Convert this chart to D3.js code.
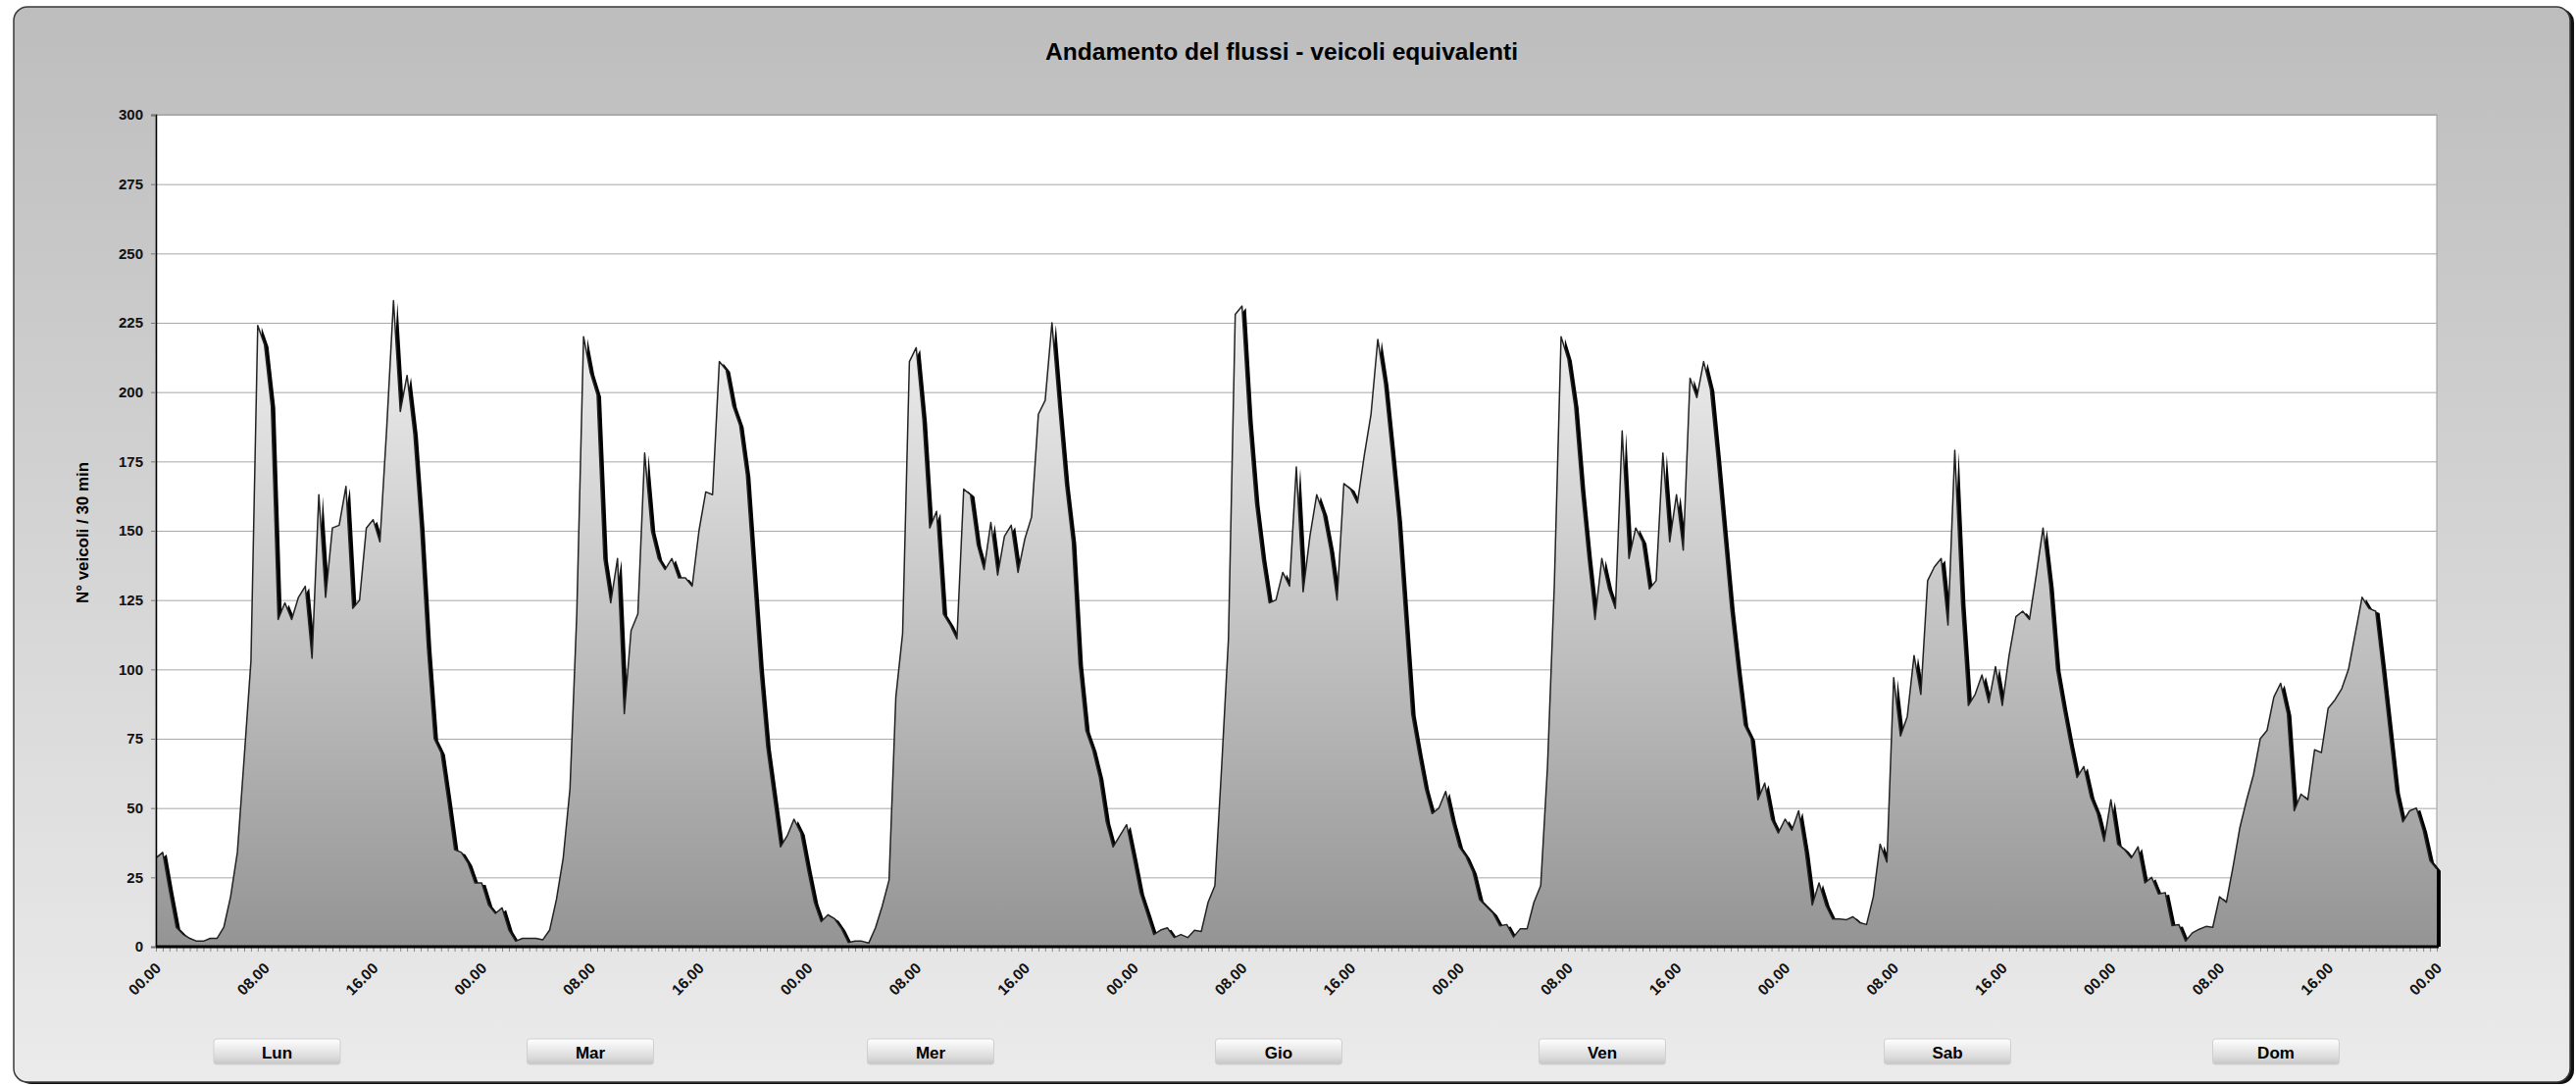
<!DOCTYPE html>
<html><head><meta charset="utf-8">
<script src="https://cdn.jsdelivr.net/npm/d3@7/dist/d3.min.js"></script>
<style>
html,body{margin:0;padding:0;background:#fff;}
svg{display:block;}
</style></head><body>
<svg id="chart" width="2627" height="1107"></svg>
<script>
// ---------------- DATA ----------------
const titleText = "Andamento del flussi - veicoli equivalenti";
const yTitleText = "N° veicoli / 30 min";
const days = ["Lun", "Mar", "Mer", "Gio", "Ven", "Sab", "Dom"];
const hourLabels = ["00.00", "08.00", "16.00"];
const yTickValues = [0, 25, 50, 75, 100, 125, 150, 175, 200, 225, 250, 275, 300];

// veicoli equivalenti per intervallo di 30 min (00.00 ... 23.30)
const lun = [32,34,20,7,4.5,3,2,2,3,3, 7,18,34,68,103,224,217,195,118,124,
             118,126,130,104,163,126,151,152,166,122, 125,151,154,146,187,233,193,206,185,151,
             108,75,70,53,35,34,30,23];
const mar = [23,15,12,14,6,2,3,3,3,2.5, 6,17,32,57,120,220,207,199,140,124,
             140,84,114,120,178,150,140,136,140,133, 133,130,150,164,163,211,208,195,188,170,
             135,100,72,54,36,40,46,41];
const mer = [28,16,9,11.5,10,6.5,1.5,2,2,1.3, 6.8,14.7,24,90,113,211,216,190,151,157,
             120,116,111,165,163,145,136,153,134,148, 152,135,147,155,192,197,225,195,167,146,
             102,78,71,61,45,36,40,44];
const gio = [32,19.5,12,4.4,6,6.8,3.3,4.4,3.3,5.9, 5.5,16,22,65,111,228,231,190,160,140,
             124,125,135,130,173,128,148,163,156,143, 125,167,165,160,177,192,219,203,179,154,
             119,84,70,57,48,50,56,45];
const ven = [36,32.5,27,17,14.5,12,7.5,8,3.5,6.5, 6.5,16,22,65,130,220,212,195,165,140,
             118,140,129,122,186,140,151,146,129,132, 178,146,163,143,205,198,211,201,176,149,
             122,100,80,75,53,59,46,41];
const sab = [46,42,49,34,15,23,15,10,10,9.7, 10.8,8.7,8,18,37,30.5,97,76,83,105,
             91,132,137,140,116,179,124,87,91,98, 88,101,87,105,119,121,118,134,151,130,
             100,86,73,61,65,54,48,38];
const dom = [53,37,35,32,36,23,25,19,19.5,7.6, 8,2,5,6.3,7.3,7,18,16,29,43,
             53,62,75,78,90,95,84,49,55,53, 71,70,86,89,93,100,113,126,122,121,
             100,78,56,45,49,50,42,31];
const lastMidnight = 28; // 00.00 finale

// ---------------- LAYOUT ----------------
const plot = {left: 159, right: 2485, top: 117, bottom: 965};
const buttonCenters = [282.5, 602, 949, 1304, 1634, 1986, 2321];
const narrow = "'Liberation Sans Narrow','Arial Narrow','Liberation Sans',Arial,sans-serif";
const sans = "'Liberation Sans',Arial,Helvetica,sans-serif";

const values = [].concat(lun, mar, mer, gio, ven, sab, dom, [lastMidnight]);
const perDay = lun.length;

const svg = d3.select("#chart");
const defs = svg.append("defs");

const bgGrad = defs.append("linearGradient").attr("id", "bgGrad")
  .attr("x1", 0).attr("y1", 0).attr("x2", 0).attr("y2", 1);
bgGrad.append("stop").attr("offset", "0%").attr("stop-color", "#bdbdbd");
bgGrad.append("stop").attr("offset", "100%").attr("stop-color", "#ebebeb");

const x = d3.scaleLinear().domain([0, values.length - 1]).range([plot.left, plot.right]);
const y = d3.scaleLinear().domain([0, 300]).range([plot.bottom, plot.top]);

const areaGrad = defs.append("linearGradient").attr("id", "areaGrad")
  .attr("gradientUnits", "userSpaceOnUse")
  .attr("x1", 0).attr("x2", 0).attr("y1", y(235)).attr("y2", y(0));
areaGrad.append("stop").attr("offset", "0%").attr("stop-color", "#f3f3f3");
areaGrad.append("stop").attr("offset", "100%").attr("stop-color", "#949494");

const btnGrad = defs.append("linearGradient").attr("id", "btnGrad")
  .attr("x1", 0).attr("y1", 0).attr("x2", 0).attr("y2", 1);
btnGrad.append("stop").attr("offset", "0%").attr("stop-color", "#ffffff");
btnGrad.append("stop").attr("offset", "25%").attr("stop-color", "#f2f2f2");
btnGrad.append("stop").attr("offset", "70%").attr("stop-color", "#dcdcdc");
btnGrad.append("stop").attr("offset", "100%").attr("stop-color", "#c6c6c6");

defs.append("clipPath").attr("id", "plotClip").append("rect")
  .attr("x", plot.left).attr("y", plot.top)
  .attr("width", plot.right - plot.left + 4).attr("height", plot.bottom - plot.top);

// ---- outer frame ----
svg.append("rect").attr("x", 18).attr("y", 9).attr("width", 2607).attr("height", 1096)
  .attr("rx", 14).attr("fill", "#111");
svg.append("rect").attr("x", 14).attr("y", 7).attr("width", 2607).attr("height", 1096)
  .attr("rx", 14).attr("fill", "url(#bgGrad)").attr("stroke", "#3a3a3a").attr("stroke-width", 1.5);

// ---- plot background ----
svg.append("rect").attr("x", plot.left).attr("y", plot.top)
  .attr("width", plot.right - plot.left).attr("height", plot.bottom - plot.top)
  .attr("fill", "#fff").attr("stroke", "#9a9a9a").attr("stroke-width", 1);

// gridlines
const grid = svg.append("g").attr("transform", `translate(${plot.left},0)`)
  .call(d3.axisLeft(y).tickValues(yTickValues.filter(v => v > 0))
    .tickSize(-(plot.right - plot.left)).tickFormat(""));
grid.select(".domain").remove();
grid.selectAll("line").attr("stroke", "#a8a8a8").attr("stroke-width", 1);

// ---- area ----
const area = d3.area().x((d, i) => x(i)).y0(y(0)).y1(d => y(d));
const line = d3.line().x((d, i) => x(i)).y(d => y(d));
const plotG = svg.append("g").attr("clip-path", "url(#plotClip)");
plotG.append("path").datum(values).attr("d", area)
  .attr("transform", "translate(4,2)").attr("fill", "#000");
plotG.append("path").datum(values).attr("d", area).attr("fill", "url(#areaGrad)");
plotG.append("path").datum(values).attr("d", line)
  .attr("fill", "none").attr("stroke", "#222").attr("stroke-width", 1.5)
  .attr("stroke-linejoin", "round");

// ---- axes ----
const yAx = svg.append("g").attr("transform", `translate(${plot.left},0)`)
  .call(d3.axisLeft(y).tickValues(yTickValues).tickSize(5).tickPadding(8));
yAx.select(".domain").attr("stroke", "#000").attr("stroke-width", 1.5);
yAx.selectAll(".tick line").attr("stroke", "#777");
yAx.selectAll(".tick text").attr("font-family", sans).attr("font-weight", "bold")
  .attr("font-size", 15).attr("fill", "#111");

const xMinor = svg.append("g").attr("transform", `translate(0,${plot.bottom})`)
  .call(d3.axisBottom(x).tickValues(d3.range(0, values.length)).tickSize(5).tickFormat(""));
xMinor.select(".domain").remove();
xMinor.selectAll(".tick line").attr("stroke", "#8a8a8a");

svg.append("line").attr("x1", plot.left).attr("x2", plot.right + 2)
  .attr("y1", plot.bottom).attr("y2", plot.bottom)
  .attr("stroke", "#000").attr("stroke-width", 3);

const labelIdx = d3.range(0, values.length, perDay / 3);
svg.append("g").selectAll("text").data(labelIdx).join("text")
  .attr("transform", d => `translate(${x(d) + 6},${plot.bottom + 23}) rotate(-45)`)
  .attr("text-anchor", "end")
  .attr("font-family", sans).attr("font-weight", "bold").attr("font-size", 15.5)
  .attr("fill", "#111")
  .text(d => hourLabels[(d / (perDay / 3)) % 3]);

// ---- titles ----
svg.append("text").attr("x", 1307).attr("y", 61).attr("text-anchor", "middle")
  .attr("font-family", narrow).attr("font-weight", "bold").attr("font-size", 23)
  .attr("textLength", 482).attr("lengthAdjust", "spacingAndGlyphs")
  .attr("fill", "#000").text(titleText);

svg.append("text").attr("transform", `translate(90,${(plot.top + plot.bottom) / 2 + 2}) rotate(-90)`)
  .attr("text-anchor", "middle")
  .attr("font-family", narrow).attr("font-weight", "bold").attr("font-size", 17)
  .attr("textLength", 144).attr("lengthAdjust", "spacingAndGlyphs")
  .attr("fill", "#000").text(yTitleText);

// ---- day buttons ----
const btn = svg.append("g").selectAll("g").data(days).join("g")
  .attr("transform", (d, i) => `translate(${buttonCenters[i]},1059)`);
btn.append("rect").attr("x", -64.5).attr("y", 0).attr("width", 129).attr("height", 26)
  .attr("rx", 3).attr("fill", "url(#btnGrad)").attr("stroke", "#cfcfcf").attr("stroke-width", 1);
btn.append("text").attr("x", 0).attr("y", 20).attr("text-anchor", "middle")
  .attr("font-family", narrow).attr("font-weight", "bold").attr("font-size", 17)
  .attr("fill", "#000").text(d => d);
</script>
</body></html>
